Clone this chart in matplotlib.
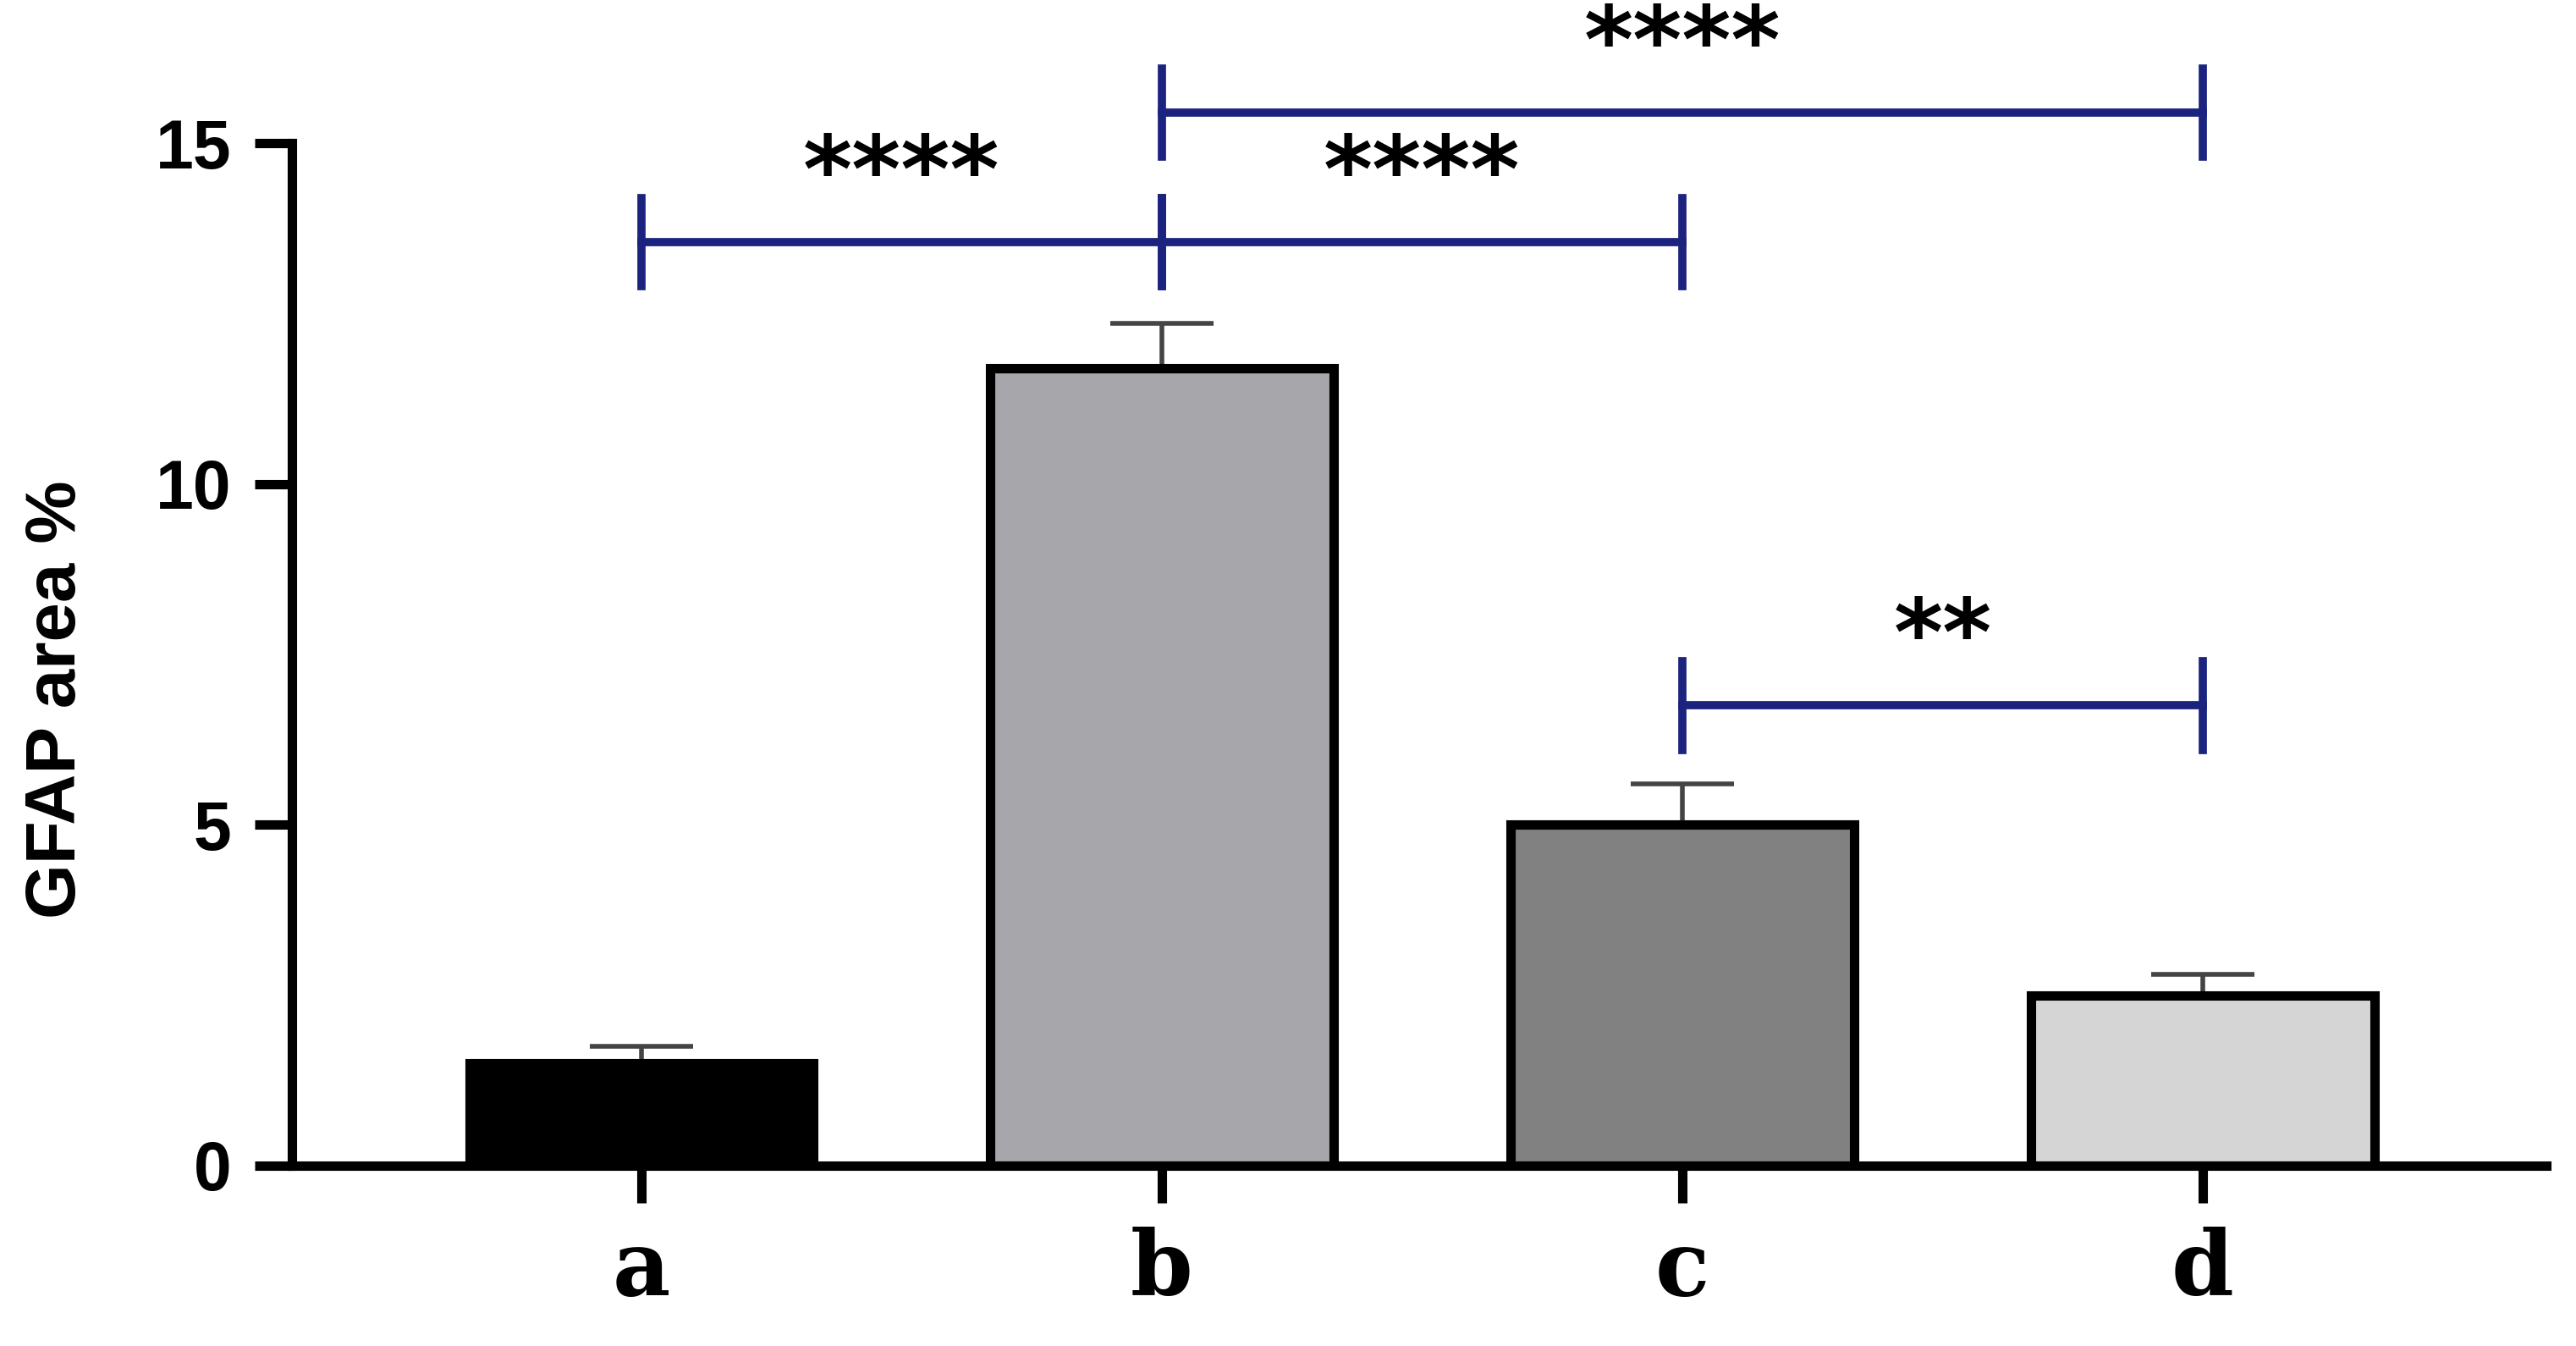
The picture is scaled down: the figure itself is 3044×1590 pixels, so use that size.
import matplotlib.pyplot as plt
import numpy as np

groups = ["a", "b", "c", "d"]
means = [1.5, 11.7, 5.0, 2.5]
errs = [0.25, 0.65, 0.6, 0.3]
colors = ["#000000", "#a7a7ab", "#818181", "#d5d5d5"]

# significance brackets: (left, right, height, label)
brackets = [(0, 1, 13.55, "****"), (1, 2, 13.55, "****"),
            (2, 3, 6.75, "**"), (1, 3, 15.45, "****")]

fig = plt.figure(figsize=(15.22, 7.95), dpi=200)
ax = fig.add_axes([0.1135, 0.134, 0.875, 0.866])

x = np.arange(len(groups))
ax.bar(x, means, width=0.66, color=colors, edgecolor="black", linewidth=4, zorder=2)
ax.errorbar(x, means, yerr=[np.zeros(4), errs], fmt="none", ecolor="#444444",
            elinewidth=2, capsize=22, capthick=2, zorder=1)

navy = "#1c237f"
for l, r, h, lab in brackets:
    ax.plot([l, r], [h, h], color=navy, lw=3.5, clip_on=False)
    for e in (l, r):
        ax.plot([e, e], [h - 0.65, h + 0.65], color=navy, lw=3.5, clip_on=False)
    ax.text((l + r) / 2, h + 0.3, lab, ha="center", va="bottom",
            fontsize=40, fontweight="bold", clip_on=False)

ax.set_xlim(-0.67, 3.66)
ax.set_ylim(0, 17.1)
ax.set_yticks([0, 5, 10, 15])
ax.set_xticks(x)
ax.set_xticklabels(groups, family="DejaVu Serif", fontweight="bold", fontsize=38)
for t in ax.get_yticklabels():
    t.set_fontweight("bold")
    t.set_fontsize(29)
    t.set_family("Liberation Sans")
ax.set_ylabel("GFAP area %", fontsize=30, fontweight="bold", family="Liberation Sans")
ax.yaxis.set_label_coords(-0.09, 0.4)
ax.spines["top"].set_visible(False)
ax.spines["right"].set_visible(False)
ax.spines["left"].set_linewidth(4)
ax.spines["bottom"].set_linewidth(4)
ax.spines["left"].set_bounds(0, 15)
ax.tick_params(width=4, length=16, pad=10)

plt.savefig("out.png", dpi=200)
